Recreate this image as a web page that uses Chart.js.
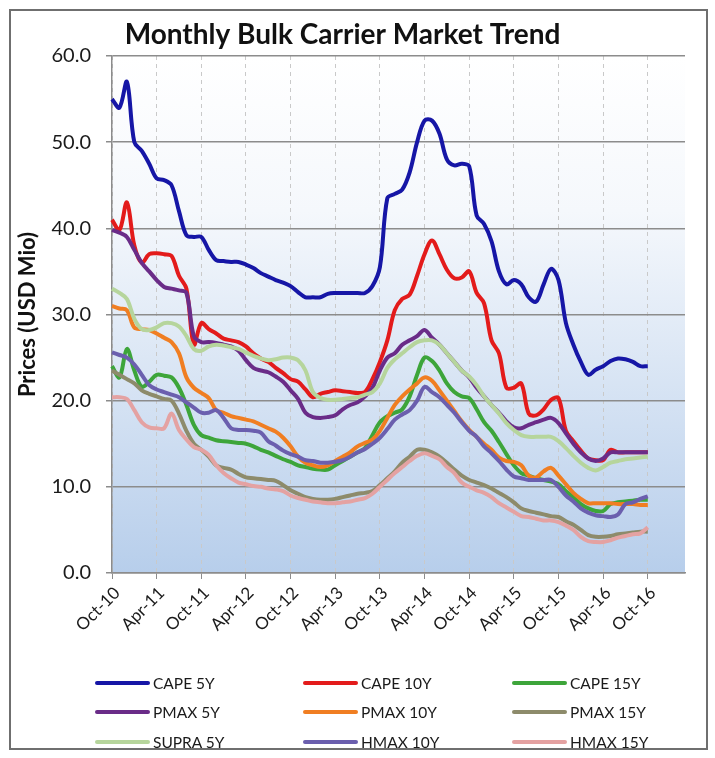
<!DOCTYPE html>
<html>
<head>
<meta charset="utf-8">
<title>Monthly Bulk Carrier Market Trend</title>
<script src="https://cdn.jsdelivr.net/npm/chart.js@4.4.1/dist/chart.umd.min.js"></script>
<style>
    body { margin: 0; background: #fff; }
    #wrap { position: relative; width: 715px; height: 758px; }
    #frame { position: absolute; left: 9px; top: 9px; width: 695px; height: 737px; border: 2px solid #6f6f6f; }
    #cvs { position: absolute; left: 0; top: 0; }
    #legend { position: absolute; left: 95px; top: 668px; display: grid;
        grid-template-columns: 208px 209px 140px; grid-auto-rows: 29.5px;
        font-family: Lato, "Open Sans", sans-serif; font-size: 15.5px; color: #1a1a1a; }
    #legend div { display: flex; align-items: center; }
    #legend span.ln { display: inline-block; width: 55px; height: 4px; border-radius: 2px; margin-right: 3px; }
</style>
</head>
<body>
<div id="wrap">
    <div id="frame"></div>
    <canvas id="cvs" width="715" height="758"></canvas>
    <div id="legend"></div>
</div>
<script>
// month categories, Oct-10 .. Mar-17 (axis runs a few months past the data)
var months = ["Oct-10","Nov-10","Dec-10","Jan-11","Feb-11","Mar-11","Apr-11","May-11","Jun-11","Jul-11","Aug-11","Sep-11",
    "Oct-11","Nov-11","Dec-11","Jan-12","Feb-12","Mar-12","Apr-12","May-12","Jun-12","Jul-12","Aug-12","Sep-12",
    "Oct-12","Nov-12","Dec-12","Jan-13","Feb-13","Mar-13","Apr-13","May-13","Jun-13","Jul-13","Aug-13","Sep-13",
    "Oct-13","Nov-13","Dec-13","Jan-14","Feb-14","Mar-14","Apr-14","May-14","Jun-14","Jul-14","Aug-14","Sep-14",
    "Oct-14","Nov-14","Dec-14","Jan-15","Feb-15","Mar-15","Apr-15","May-15","Jun-15","Jul-15","Aug-15","Sep-15",
    "Oct-15","Nov-15","Dec-15","Jan-16","Feb-16","Mar-16","Apr-16","May-16","Jun-16","Jul-16","Aug-16","Sep-16",
    "Oct-16","Nov-16","Dec-16","Jan-17","Feb-17","Mar-17"];

var seriesNames = ["CAPE 5Y", "CAPE 10Y", "CAPE 15Y", "PMAX 5Y", "PMAX 10Y", "PMAX 15Y", "SUPRA 5Y", "HMAX 10Y", "HMAX 15Y"];
var seriesColors = ["#1616a6", "#e31b1b", "#3da53a", "#6a2c88", "#f07e22", "#8d8b6b", "#b6d59c", "#6b5fae", "#e4a2a2"];

var cape5 = [55, 54, 57, 50, 49, 47.5, 45.8, 45.6, 45, 42, 39.2, 39, 39, 37.5, 36.3, 36.2, 36.1, 36.1, 35.8, 35.4,
    34.8, 34.4, 34, 33.7, 33.3, 32.6, 32, 32, 32, 32.4, 32.5, 32.5, 32.5, 32.5, 32.5, 33.3, 35.5, 43.5, 44, 44.5,
    46.5, 50, 52.5, 52.5, 51, 48, 47.3, 47.5, 47.2, 41.5, 40.5, 38.5, 35, 33.5, 34, 33.5, 32, 31.5, 33.5, 35.3,
    34, 29, 26.5, 24.5, 23, 23.6, 24, 24.6, 24.9, 24.8, 24.5, 24, 24];
var cape10 = [41, 39.8, 43, 38, 36, 37, 37.1, 37, 36.8, 34.5, 33, 26.5, 29, 28.3, 27.8, 27.2, 27, 26.8, 26.3, 25.5,
    24.9, 24.5, 23.8, 23.2, 22.5, 22.2, 21.3, 20.4, 20.8, 21, 21.2, 21.1, 21, 20.9, 21, 22.5, 24.5, 27, 30.5, 31.8,
    32.3, 34.5, 37, 38.6, 37, 35.2, 34.2, 34.3, 35, 32.5, 31.3, 27, 25.5, 21.5, 21.5, 22, 18.5, 18.3, 19, 20.1,
    20.3, 16.5, 15.3, 14.2, 13.3, 13.1, 13.1, 14.3, 14, 14, 14, 14, 14];
var cape15 = [24, 22.7, 26, 23.5, 21.6, 22.2, 23, 22.9, 22.7, 21.5, 19.5, 17.2, 16, 15.7, 15.4, 15.3, 15.2, 15.1, 15, 14.7,
    14.3, 14, 13.6, 13.2, 12.9, 12.5, 12.3, 12.1, 12, 12, 12.5, 13, 13.5, 14, 14.5, 16, 17.5, 18.2, 18.6, 19,
    20.5, 23, 25, 24.6, 23.5, 22, 21, 20.5, 20.3, 19, 17.5, 16.5, 15.2, 13.8, 12.5, 11.6, 11.3, 11, 10.8, 10.6,
    10.3, 9.5, 8.8, 8, 7.5, 7.2, 7.2, 8, 8.2, 8.3, 8.4, 8.5, 8.5];
var pmax5 = [39.8, 39.5, 39, 37.5, 36, 35, 34, 33.2, 33, 32.8, 32.5, 27.5, 26.8, 26.8, 26.7, 26.5, 26.3, 25.8, 24.7, 23.8,
    23.5, 23.3, 22.8, 22.2, 21.2, 20.2, 18.6, 18.1, 18, 18.1, 18.3, 19, 19.5, 19.8, 20.5, 21.5, 23.5, 25, 25.5, 26.5,
    27, 27.5, 28.2, 27.3, 26.5, 25.5, 24.5, 23.5, 22.7, 21.5, 20.5, 19.5, 18.6, 17.6, 16.9, 16.8, 17.2, 17.5, 17.8, 18,
    17.4, 16.2, 15, 14, 13.3, 13, 13.3, 14, 14, 14, 14, 14, 14];
var pmax10 = [31, 30.7, 30.5, 28.5, 28.3, 28.2, 27.8, 27.3, 26.8, 25.5, 22.7, 21.5, 20.9, 20.3, 18.9, 18.6, 18.2, 18, 17.8, 17.6,
    17.2, 16.8, 16.4, 15.7, 14.7, 13.5, 12.8, 12.5, 12.3, 12.5, 13, 13.5, 14, 14.7, 15.1, 15.5, 16.5, 18, 19.5, 20.5,
    21.3, 22, 22.7, 22.3, 21.2, 20, 18.8, 17.6, 16.6, 15.8, 15, 14.3, 13.4, 13, 12.9, 12.5, 11.3, 11.1, 11.8, 12.2,
    11.3, 10.3, 9.3, 8.6, 8.1, 8.1, 8.1, 8.1, 8, 8, 8, 7.9, 7.9];
var pmax15 = [23.5, 23, 22.5, 22, 21.2, 20.8, 20.5, 20.2, 20, 18.5, 16.5, 15, 14.3, 13.5, 12.5, 12.2, 12, 11.5, 11.1, 11,
    10.9, 10.8, 10.7, 10.2, 9.6, 9.2, 8.8, 8.6, 8.5, 8.5, 8.6, 8.8, 9, 9.2, 9.3, 9.5, 10.2, 11, 11.8, 12.8,
    13.5, 14.3, 14.3, 14, 13.5, 12.8, 12, 11.3, 10.8, 10.5, 10.2, 9.8, 9.3, 8.8, 8.2, 7.5, 7.2, 7, 6.8, 6.6,
    6.5, 6, 5.6, 5, 4.4, 4.2, 4.2, 4.3, 4.5, 4.6, 4.7, 4.8, 4.8];
var supra5 = [33, 32.5, 31.8, 29.5, 28.3, 28.2, 28.5, 29, 29, 28.6, 27.5, 26, 25.8, 26.3, 26.5, 26.4, 26.2, 26, 25.6, 25.2,
    24.9, 24.7, 24.8, 25, 25, 24.7, 23.5, 21, 20.3, 20.1, 20.1, 20.2, 20.3, 20.4, 20.7, 21, 22, 23.8, 24.8, 25.5,
    26.2, 26.8, 27, 27, 26.5, 25.5, 24.5, 23.5, 22.8, 21.8, 20.5, 19.5, 18.5, 17.4, 16.6, 16, 15.8, 15.8, 15.8, 15.8,
    15.3, 14.5, 13.6, 12.8, 12.2, 11.9, 12.3, 12.8, 13, 13.2, 13.3, 13.4, 13.5];
var hmax10 = [25.6, 25.3, 25, 24.2, 23, 21.8, 21.3, 21, 20.7, 20.4, 19.8, 19.2, 18.6, 18.6, 18.9, 18, 16.8, 16.6, 16.6, 16.5,
    16.3, 15.3, 14.8, 14.2, 13.8, 13.5, 13.1, 13, 12.8, 12.8, 12.9, 13.1, 13.5, 14, 14.4, 15, 15.7, 16.7, 17.8, 18.4,
    18.9, 20, 21.6, 21, 20.4, 19.5, 18.6, 17.5, 16.5, 15.8, 14.7, 13.9, 13, 12, 11.2, 11, 10.8, 10.8, 10.8, 10.8,
    10, 9, 8.3, 7.5, 7, 6.7, 6.6, 6.5, 6.8, 8, 8.2, 8.6, 8.9];
var hmax15 = [20.4, 20.4, 20.2, 18.9, 17.5, 16.9, 16.8, 16.8, 18.5, 16.6, 15.5, 14.6, 14.3, 13.7, 12.5, 11.6, 11, 10.5, 10.3, 10.1,
    10, 9.8, 9.7, 9.5, 9, 8.7, 8.5, 8.3, 8.2, 8.1, 8.1, 8.2, 8.3, 8.5, 8.7, 9.2, 10, 10.8, 11.6, 12.3,
    13, 13.6, 13.9, 13.6, 13.2, 12.3, 11.6, 10.5, 10, 9.6, 9.3, 8.8, 8.1, 7.6, 7.1, 6.6, 6.5, 6.3, 6.1, 6.1,
    5.9, 5.5, 5, 4.2, 3.7, 3.6, 3.6, 3.8, 4.1, 4.3, 4.5, 4.6, 5.3];

var seriesData = [cape5, cape10, cape15, pmax5, pmax10, pmax15, supra5, hmax10, hmax15];
var yTicks = [0, 10, 20, 30, 40, 50, 60];

var datasets = [];
for (var i = 0; i < seriesNames.length; i++) {
    datasets.push({
        label: seriesNames[i],
        data: seriesData[i],
        borderColor: seriesColors[i],
        backgroundColor: seriesColors[i],
        borderWidth: 4,
        pointRadius: 0,
        tension: 0.35,
        fill: false,
        order: seriesNames.length - i   // later series drawn on top, like the original
    });
}

// white-to-blue wash behind the plot
var plotBackground = {
    id: "plotBackground",
    beforeDraw: function(chart) {
        var a = chart.chartArea, ctx = chart.ctx;
        var g = ctx.createLinearGradient(0, a.top, 0, a.bottom);
        g.addColorStop(0, "#ffffff");
        g.addColorStop(0.3, "#f5f8fc");
        g.addColorStop(1, "#b7ceeb");
        ctx.save();
        ctx.fillStyle = g;
        ctx.fillRect(a.left, a.top, a.right - a.left, a.bottom - a.top);
        ctx.restore();
    }
};

var font = "Lato, 'Open Sans', sans-serif";

var chart = new Chart(document.getElementById("cvs"), {
    type: "line",
    data: { labels: months, datasets: datasets },
    plugins: [plotBackground],
    options: {
        responsive: false,
        animation: false,
        layout: { padding: { left: 0, right: 30, top: 0, bottom: 105 } },
        plugins: {
            legend: { display: false },
            tooltip: { enabled: false },
            title: {
                display: true,
                text: "Monthly Bulk Carrier Market Trend",
                color: "#111",
                font: { family: font, size: 28, weight: "bold" },
                padding: { top: 18, bottom: 4.4 }
            }
        },
        scales: {
            x: {
                type: "category",
                afterFit: function(s) { s.height = 80; },
                grid: {
                    color: function(c) { return c.index % 6 === 0 ? "#c9c9c9" : "rgba(0,0,0,0)"; },
                    tickColor: function(c) { return c.index % 6 === 0 ? "#8c8c8c" : "rgba(0,0,0,0)"; },
                    lineWidth: 1,
                    tickLength: 6
                },
                border: { color: "#8c8c8c", width: 1.5, dash: [4, 4] },
                ticks: {
                    autoSkip: false,
                    minRotation: 45,
                    maxRotation: 45,
                    padding: 4,
                    labelOffset: 5,
                    color: "#1a1a1a",
                    font: { family: font, size: 17 },
                    callback: function(v, idx) {
                        return (idx % 6 === 0 && idx <= 72) ? months[idx] : "";
                    }
                }
            },
            y: {
                min: 0,
                max: 60,
                afterFit: function(s) { s.width = 112; },
                afterBuildTicks: function(s) {
                    s.ticks = yTicks.map(function(v) { return { value: v }; });
                },
                grid: { color: "#8c8c8c", lineWidth: 1.5, tickLength: 6 },
                border: { color: "#8c8c8c", width: 1.5 },
                ticks: {
                    padding: 15,
                    color: "#1a1a1a",
                    font: { family: font, size: 20 },
                    callback: function(v) { return v.toFixed(1); }
                },
                title: {
                    display: true,
                    text: "Prices (USD Mio)",
                    color: "#111",
                    font: { family: font, size: 22, weight: "bold" },
                    padding: { top: 15, bottom: 0 }
                }
            }
        }
    }
});

// three-column legend under the chart
var $legend = document.getElementById("legend");
for (var k = 0; k < seriesNames.length; k++) {
    var item = document.createElement("div");
    item.innerHTML = '<span class="ln" style="background:' + seriesColors[k] + '"></span>' + seriesNames[k];
    $legend.appendChild(item);
}
</script>
</body>
</html>
